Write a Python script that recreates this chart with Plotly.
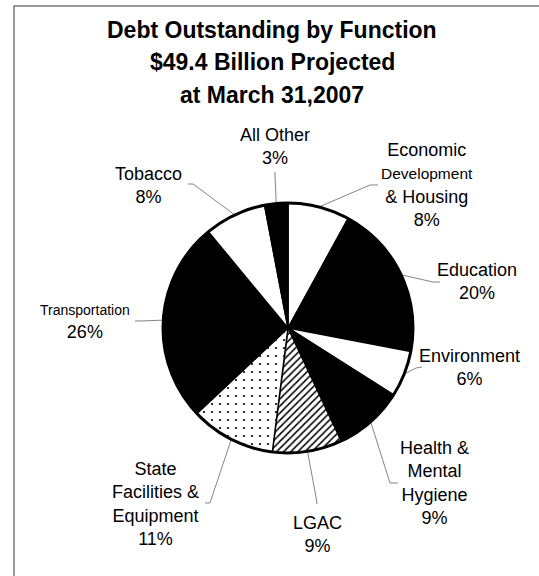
import math
import plotly.graph_objects as go

# Debt outstanding by function, share of $49.4 billion (clockwise from 12 o'clock)
functions = ["Economic Development & Housing", "Education", "Environment",
             "Health & Mental Hygiene", "LGAC", "State Facilities & Equipment",
             "Transportation", "Tobacco", "All Other"]
shares = [8, 20, 6, 9, 9, 11, 26, 8, 3]

W, H = 539, 576
CX, CY, R = 288, 328, 125  # pie centre / radius in pixels

fills = ["white", "black", "white", "black", "white", "white", "black", "white", "black"]
pattern_shapes = ["", "", "", "", "/", ".", "", "", ""]
pattern_sizes = [8, 8, 8, 8, 5, 8, 8, 8, 8]
pattern_solid = [0.3, 0.3, 0.3, 0.3, 0.3, 0.06, 0.3, 0.3, 0.3]

def px(x):
    return x / W

def py(y):
    return 1 - y / H

fig = go.Figure(go.Pie(
    labels=functions,
    values=shares,
    sort=False,
    direction="clockwise",
    rotation=0,
    textinfo="none",
    hoverinfo="label+percent",
    showlegend=False,
    domain=dict(x=[px(CX - R), px(CX + R)], y=[py(CY + R), py(CY - R)]),
    marker=dict(
        colors=fills,
        line=dict(color="black", width=1.5),
        pattern=dict(shape=pattern_shapes, fgcolor="black", bgcolor="white",
                     size=pattern_sizes, solidity=pattern_solid),
    ),
))

FONT = "Liberation Sans, Arial, sans-serif"

# Label text blocks: (text, centre x px, centre y px)
label_text = [
    "Economic<br><span style='font-size:15.5px'>Development</span><br>&amp; Housing<br>8%",
    "Education<br>20%",
    "Environment<br>6%",
    "Health &amp;<br>Mental<br>Hygiene<br>9%",
    "LGAC<br>9%",
    "State<br>Facilities &amp;<br>Equipment<br>11%",
    "<span style='font-size:14px'>Transportation</span><br>26%",
    "Tobacco<br>8%",
    "All Other<br>3%",
]
label_pos = [(427, 185), (477, 281), (469, 367), (434, 483), (317, 534),
             (155, 504), (85, 322), (148, 185), (275, 147)]

# Leader line stubs near each label (pixels)
stubs = [
    [(378, 185), (370, 185)],
    [(440, 282), (433, 282)],
    [(422, 367), (416, 368)],
    [(398, 483), (390, 483)],
    [(317, 504), (316, 497)],
    [(205, 503), (210, 503)],
    [(135, 321), (140, 321)],
    [(188, 184), (193, 184)],
    [(275, 172), (275, 175)],
]

total = sum(shares)
annotations = []
shapes = []
cum = 0
for name, val, text, (lx, ly), stub in zip(functions, shares, label_text, label_pos, stubs):
    mid = (cum + val / 2) / total * 2 * math.pi
    cum += val
    ex = CX + R * math.sin(mid)
    ey = CY - R * math.cos(mid)
    pts = stub + [(ex, ey)]
    path = "M " + " L ".join(f"{px(x):.5f},{py(y):.5f}" for x, y in pts)
    shapes.append(dict(type="path", xref="paper", yref="paper", path=path,
                       line=dict(color="#666666", width=0.8)))
    annotations.append(dict(text=text, x=px(lx), y=py(ly), xref="paper", yref="paper",
                            xanchor="center", yanchor="middle", showarrow=False,
                            font=dict(family=FONT, size=18, color="black")))

title_lines = ["Debt Outstanding by Function", "$49.4 Billion Projected", "at March 31,2007"]
title_y = [30, 62, 95]
for t, y in zip(title_lines, title_y):
    annotations.append(dict(text=f"<b>{t}</b>", x=px(272), y=py(y), xref="paper", yref="paper",
                            xanchor="center", yanchor="middle", showarrow=False,
                            font=dict(family=FONT, size=23, color="black")))

# Heavy outer rim of the pie
shapes.append(dict(type="circle", xref="paper", yref="paper",
                   x0=px(CX - R), x1=px(CX + R), y0=py(CY + R), y1=py(CY - R),
                   line=dict(color="black", width=3)))
# Frame around the chart
shapes.append(dict(type="rect", xref="paper", yref="paper",
                   x0=px(14), x1=1.05, y0=-0.05, y1=py(6),
                   line=dict(color="#777777", width=1.5)))

fig.update_layout(
    width=W, height=H,
    margin=dict(l=0, r=0, t=0, b=0),
    paper_bgcolor="white",
    plot_bgcolor="white",
    annotations=annotations,
    shapes=shapes,
)

fig.write_html("out.html")
